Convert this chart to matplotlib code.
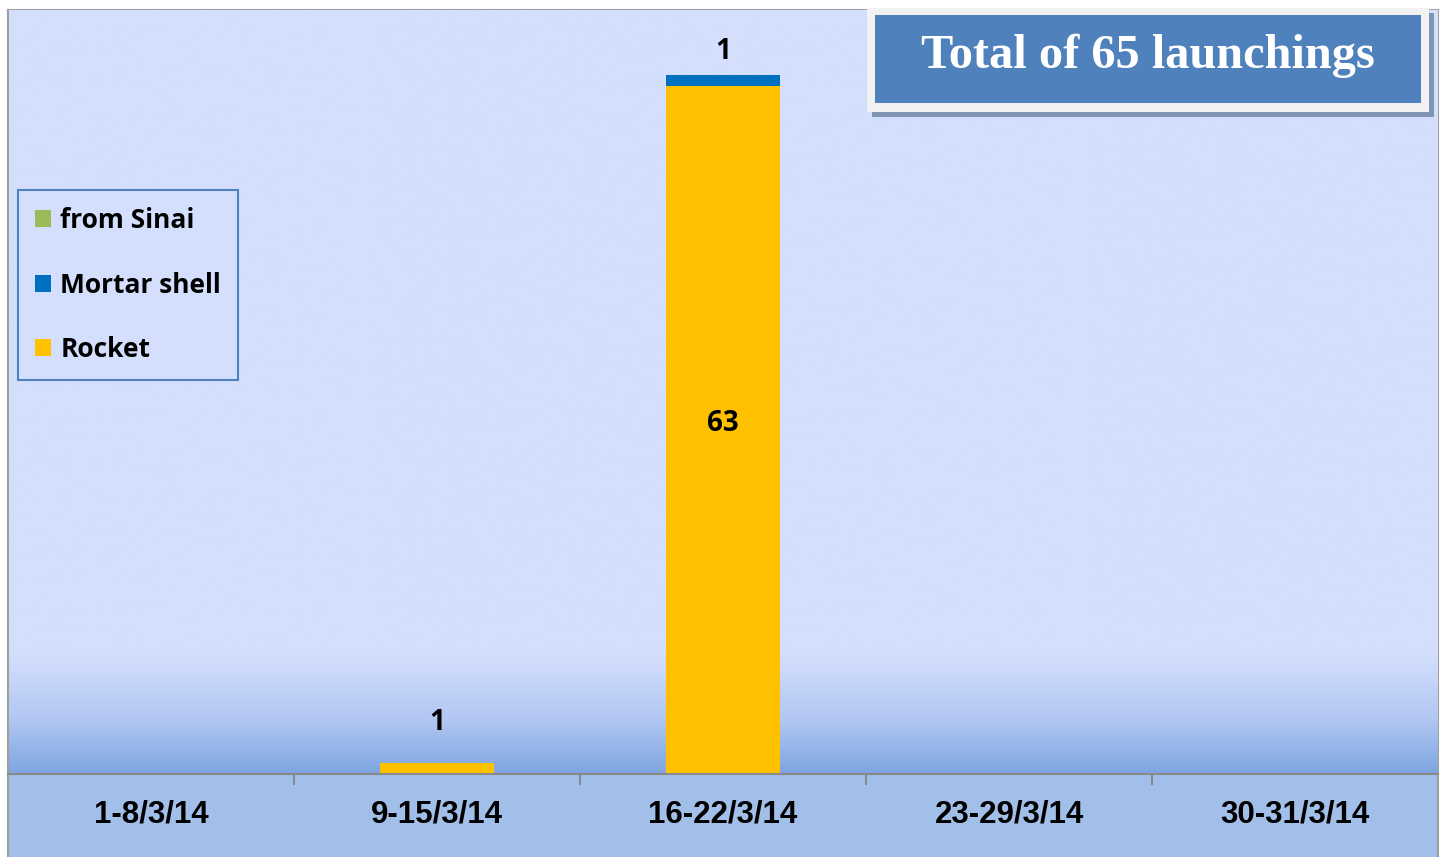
import numpy as np
import matplotlib
matplotlib.use("Agg")
import matplotlib.pyplot as plt
from matplotlib.patches import Rectangle
from matplotlib.colors import LinearSegmentedColormap

categories = ["1-8/3/14", "9-15/3/14", "16-22/3/14", "23-29/3/14", "30-31/3/14"]
rocket = [0, 1, 63, 0, 0]
mortar = [0, 0, 1, 0, 0]
sinai = [0, 0, 0, 0, 0]
title_text = "Total of 65 launchings"

W, H = 1445, 857
fig = plt.figure(figsize=(W / 100, H / 100), dpi=100)
fig.patch.set_facecolor("white")

# lower band under axis
band = fig.add_axes([8 / W, 0, 1430 / W, 83 / H], zorder=0)
band.set_facecolor("#a2bfe9")
band.set_xticks([]); band.set_yticks([])
for s in band.spines.values():
    s.set_visible(False)

ax = fig.add_axes([8 / W, 83 / H, 1430 / W, 764 / H], zorder=2)
ax.set_xlim(-0.5, 4.5)
ax.set_ylim(0, 70)

# gradient background
cmap = LinearSegmentedColormap.from_list("bg", [(0, "#7ea6e0"), (0.45, "#b2c7f2"), (1, "#d4dffd")])
n = 300
yy = np.linspace(0, 1, n)
vals = np.clip(yy / (120 / 764), 0, 1)
grad = np.tile(vals[:, None], (1, 2))
ax.imshow(grad, cmap=cmap, origin="lower", aspect="auto", extent=(-0.5, 4.5, 0, 70), zorder=0, vmin=0, vmax=1)

x = np.arange(len(categories))
bw = 0.4
b1 = ax.bar(x, rocket, bw, color="#ffc000", label="Rocket", zorder=2)
b2 = ax.bar(x, mortar, bw, bottom=rocket, color="#0070c0", label="Mortar shell", zorder=2)
bottom2 = [r + m for r, m in zip(rocket, mortar)]
b3 = ax.bar(x, sinai, bw, bottom=bottom2, color="#9bbb59", label="from Sinai", zorder=2)

lab_font = dict(fontsize=20, fontweight="bold", family=["Open Sans", "DejaVu Sans"])
for i in range(len(categories)):
    if rocket[i] > 5:
        ax.text(x[i], rocket[i] / 2 + 0.6, str(rocket[i]), ha="center", va="center", zorder=3, **lab_font)
    elif rocket[i] > 0 and mortar[i] == 0:
        ax.text(x[i], rocket[i] + 3.7, str(rocket[i]), ha="center", va="center", zorder=3, **lab_font)
    if mortar[i] > 0:
        ax.text(x[i], bottom2[i] + 2.2, str(mortar[i]), ha="center", va="center", zorder=3, **lab_font)

ax.set_yticks([])
ax.set_xticks(np.arange(0.5, 4.0, 1))
ax.set_xticklabels([])
ax.tick_params(axis="x", length=8, color="#808080", width=1.2, direction="out")
for i, c in enumerate(categories):
    ax.text(i, -3.75, c, ha="center", va="center", fontsize=22.5, fontweight="bold",
            family=["Liberation Sans", "DejaVu Sans"], clip_on=False)

for s in ["top", "right"]:
    ax.spines[s].set_visible(False)
ax.spines["left"].set_color("#a0a0a0")
ax.spines["left"].set_linewidth(1.5)
ax.spines["bottom"].set_color("#8a8a8a")
ax.spines["bottom"].set_linewidth(1.5)

# outer frame lines
fig.add_artist(plt.Line2D([8 / W, 8 / W], [0, 847 / H], transform=fig.transFigure, color="#a0a0a0", lw=1.5))
fig.add_artist(plt.Line2D([1438 / W, 1438 / W], [0, 847 / H], transform=fig.transFigure, color="#a0a0a0", lw=1.5))
fig.add_artist(plt.Line2D([8 / W, 1438 / W], [847 / H, 847 / H], transform=fig.transFigure, color="#a0a0a0", lw=1.5))

# legend
handles = [b3, b2, b1]
leg = ax.legend(handles, ["from Sinai", "Mortar shell", "Rocket"], loc="upper left",
                bbox_to_anchor=(10 / 1430, (764 - 180) / 764), frameon=True, fancybox=False,
                prop={"family": ["Open Sans", "DejaVu Sans"], "weight": "bold", "size": 19},
                handlelength=0.6, handleheight=0.6, handletextpad=0.35, labelspacing=1.42,
                borderpad=0.65, borderaxespad=0)
leg.get_frame().set_edgecolor("#4f81bd")
leg.get_frame().set_facecolor("#d4dffd")
leg.get_frame().set_linewidth(1.5)
leg.get_frame().set_alpha(1)

# title box with shadow
fig.patches.append(Rectangle((872 / W, 1 - 117 / H), 562 / W, 104 / H, transform=fig.transFigure,
                             facecolor="#8094b4", edgecolor="none", zorder=5))
fig.patches.append(Rectangle((867 / W, 1 - 112 / H), 562 / W, 104 / H, transform=fig.transFigure,
                             facecolor="#f2f2f2", edgecolor="none", zorder=6))
fig.patches.append(Rectangle((875 / W, 1 - 103 / H), 546 / W, 88 / H, transform=fig.transFigure,
                             facecolor="#4f81bd", edgecolor="none", zorder=7))
fig.text((875 + 273) / W, 1 - 56 / H, title_text, ha="center", va="center", color="white",
         fontsize=34.8, fontweight="bold", family=["Liberation Serif", "DejaVu Serif"], zorder=8)

fig.savefig("out.png", dpi=100)
